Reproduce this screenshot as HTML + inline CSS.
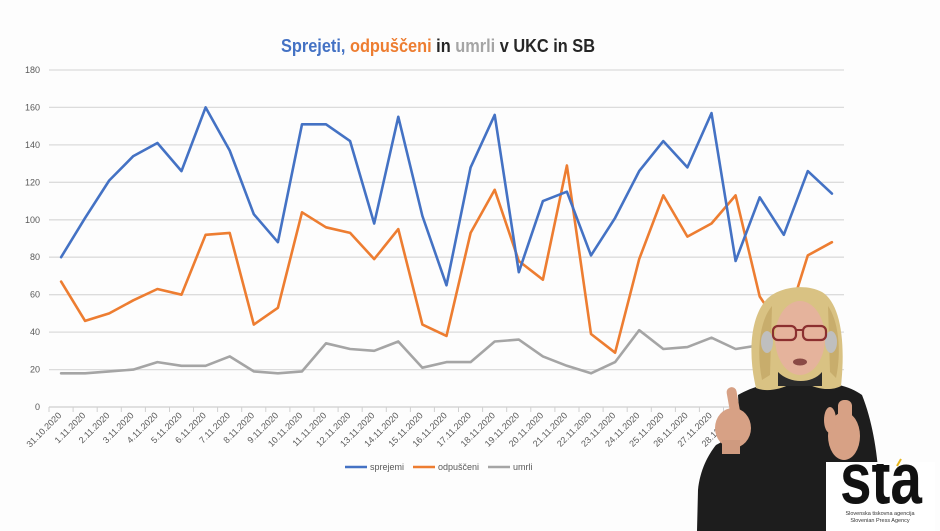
<!DOCTYPE html>
<html><head><meta charset="utf-8"><style>
html,body{margin:0;padding:0;background:#fdfdfd;}
svg{display:block;}
text{font-family:"Liberation Sans",sans-serif;}
</style></head><body>
<svg width="940" height="531" viewBox="0 0 940 531" xmlns="http://www.w3.org/2000/svg">
<rect width="940" height="531" fill="#fdfdfd"/>
<!-- title -->
<text x="281" y="52" font-size="18" font-weight="bold" textLength="314" lengthAdjust="spacingAndGlyphs"><tspan fill="#4472c4">Sprejeti,</tspan><tspan fill="#ed7d31"> odpuščeni</tspan><tspan fill="#262626"> in </tspan><tspan fill="#a5a5a5">umrli</tspan><tspan fill="#262626"> v UKC in SB</tspan></text>
<!-- gridlines -->
<g stroke="#dcdcdc" stroke-width="1.3">
<line x1="49" y1="70" x2="844" y2="70"/>
<line x1="49" y1="107.4" x2="844" y2="107.4"/>
<line x1="49" y1="144.9" x2="844" y2="144.9"/>
<line x1="49" y1="182.3" x2="844" y2="182.3"/>
<line x1="49" y1="219.8" x2="844" y2="219.8"/>
<line x1="49" y1="257.2" x2="844" y2="257.2"/>
<line x1="49" y1="294.7" x2="844" y2="294.7"/>
<line x1="49" y1="332.1" x2="844" y2="332.1"/>
<line x1="49" y1="369.6" x2="844" y2="369.6"/>
<line x1="49" y1="407" x2="844" y2="407" stroke="#d0d0d0"/>
</g>
<g stroke="#d0d0d0" stroke-width="1">
<path d="M49 407v5M73.1 407v5M97.2 407v5M121.3 407v5M145.4 407v5M169.5 407v5M193.5 407v5M217.6 407v5M241.7 407v5M265.8 407v5M289.9 407v5M314 407v5M338.1 407v5M362.2 407v5M386.3 407v5M410.4 407v5M434.4 407v5M458.5 407v5M482.6 407v5M506.7 407v5M530.8 407v5M554.9 407v5M579 407v5M603.1 407v5M627.2 407v5M651.3 407v5M675.4 407v5M699.4 407v5M723.5 407v5M747.6 407v5M771.7 407v5M795.8 407v5M819.9 407v5M844 407v5"/>
</g>
<!-- y labels -->
<g font-size="9" fill="#595959" text-anchor="end">
<text x="40" y="410">0</text>
<text x="40" y="372.6">20</text>
<text x="40" y="335.1">40</text>
<text x="40" y="297.7">60</text>
<text x="40" y="260.2">80</text>
<text x="40" y="222.8">100</text>
<text x="40" y="185.3">120</text>
<text x="40" y="147.9">140</text>
<text x="40" y="110.4">160</text>
<text x="40" y="73">180</text>
</g>
<!-- x labels -->
<g font-size="9" fill="#595959" text-anchor="end">
<text transform="translate(62,416) rotate(-45)">31.10.2020</text>
<text transform="translate(86.1,416) rotate(-45)">1.11.2020</text>
<text transform="translate(110.2,416) rotate(-45)">2.11.2020</text>
<text transform="translate(134.3,416) rotate(-45)">3.11.2020</text>
<text transform="translate(158.4,416) rotate(-45)">4.11.2020</text>
<text transform="translate(182.5,416) rotate(-45)">5.11.2020</text>
<text transform="translate(206.6,416) rotate(-45)">6.11.2020</text>
<text transform="translate(230.7,416) rotate(-45)">7.11.2020</text>
<text transform="translate(254.8,416) rotate(-45)">8.11.2020</text>
<text transform="translate(278.9,416) rotate(-45)">9.11.2020</text>
<text transform="translate(303,416) rotate(-45)">10.11.2020</text>
<text transform="translate(327,416) rotate(-45)">11.11.2020</text>
<text transform="translate(351.1,416) rotate(-45)">12.11.2020</text>
<text transform="translate(375.2,416) rotate(-45)">13.11.2020</text>
<text transform="translate(399.3,416) rotate(-45)">14.11.2020</text>
<text transform="translate(423.4,416) rotate(-45)">15.11.2020</text>
<text transform="translate(447.5,416) rotate(-45)">16.11.2020</text>
<text transform="translate(471.6,416) rotate(-45)">17.11.2020</text>
<text transform="translate(495.7,416) rotate(-45)">18.11.2020</text>
<text transform="translate(519.8,416) rotate(-45)">19.11.2020</text>
<text transform="translate(543.9,416) rotate(-45)">20.11.2020</text>
<text transform="translate(567.9,416) rotate(-45)">21.11.2020</text>
<text transform="translate(592,416) rotate(-45)">22.11.2020</text>
<text transform="translate(616.1,416) rotate(-45)">23.11.2020</text>
<text transform="translate(640.2,416) rotate(-45)">24.11.2020</text>
<text transform="translate(664.3,416) rotate(-45)">25.11.2020</text>
<text transform="translate(688.4,416) rotate(-45)">26.11.2020</text>
<text transform="translate(712.5,416) rotate(-45)">27.11.2020</text>
<text transform="translate(736.6,416) rotate(-45)">28.11.2020</text>
<text transform="translate(760.7,416) rotate(-45)">29.11.2020</text>
<text transform="translate(784.8,416) rotate(-45)">30.11.2020</text>
<text transform="translate(808.8,416) rotate(-45)">1.12.2020</text>
<text transform="translate(832.9,416) rotate(-45)">2.12.2020</text>
</g>
<!-- series -->
<g fill="none" stroke-width="2.6" stroke-linejoin="round" stroke-linecap="round">
<polyline stroke="#a5a5a5" points="61.1,373.3 85.1,373.3 109.2,371.4 133.3,369.6 157.4,362.1 181.5,365.8 205.6,365.8 229.7,356.4 253.8,371.4 277.9,373.3 302,371.4 326,343.3 350.1,349 374.2,350.8 398.3,341.5 422.4,367.7 446.5,362.1 470.6,362.1 494.7,341.5 518.8,339.6 542.9,356.4 566.9,365.8 591,373.3 615.1,362.1 639.2,330.2 663.3,349 687.4,347.1 711.5,337.7 735.6,349 759.7,345.2 783.8,345.2 807.8,350.8 831.9,347.1"/>
<polyline stroke="#ed7d31" points="61.1,281.6 85.1,320.9 109.2,313.4 133.3,300.3 157.4,289 181.5,294.7 205.6,234.8 229.7,232.9 253.8,324.6 277.9,307.8 302,212.3 326,227.3 350.1,232.9 374.2,259.1 398.3,229.1 422.4,324.6 446.5,335.9 470.6,232.9 494.7,189.8 518.8,261 542.9,279.7 566.9,165.5 591,334 615.1,352.7 639.2,259.1 663.3,195.4 687.4,236.6 711.5,223.5 735.6,195.4 759.7,296.5 783.8,332.1 807.8,255.4 831.9,242.2"/>
<polyline stroke="#4472c4" points="61.1,257.2 85.1,217.9 109.2,180.5 133.3,156.1 157.4,143 181.5,171.1 205.6,107.4 229.7,150.5 253.8,214.2 277.9,242.2 302,124.3 326,124.3 350.1,141.1 374.2,223.5 398.3,116.8 422.4,216 446.5,285.3 470.6,167.4 494.7,114.9 518.8,272.2 542.9,201.1 566.9,191.7 591,255.4 615.1,217.9 639.2,171.1 663.3,141.1 687.4,167.4 711.5,113.1 735.6,261 759.7,197.3 783.8,234.8 807.8,171.1 831.9,193.6"/>
</g>
<!-- legend -->
<g stroke-width="2.6">
<line x1="345" y1="467" x2="367" y2="467" stroke="#4472c4"/>
<line x1="413" y1="467" x2="435" y2="467" stroke="#ed7d31"/>
<line x1="488" y1="467" x2="510" y2="467" stroke="#a5a5a5"/>
</g>
<g font-size="9" fill="#595959">
<text x="370" y="470">sprejemi</text>
<text x="438" y="470">odpuščeni</text>
<text x="513" y="470">umrli</text>
</g>
<!-- interpreter -->
<g>
<!-- sweater -->
<path d="M697,531 L698,490 C700,470 708,455 716,445 L740,432 L738,395 C755,385 775,381 800,381 C830,381 850,386 862,395 C872,420 877,450 879,480 L881,531 Z" fill="#1d1d1d"/>
<!-- hair -->
<path d="M756,388 C748,355 750,318 766,300 C778,287 805,283 822,292 C840,303 846,340 841,386 C830,392 815,388 808,384 L790,384 C780,390 765,392 756,388 Z" fill="#d9c283"/>
<path d="M762,380 C756,350 760,320 772,306 L770,375 Z" fill="#c8ad6c"/>
<path d="M836,378 C842,350 838,320 828,306 L830,372 Z" fill="#c8ad6c"/>
<!-- face -->
<ellipse cx="800" cy="338" rx="25" ry="37" fill="#e5b39c"/>
<path d="M778,372 C790,384 812,384 822,372 L822,386 L778,386 Z" fill="#2a2a2a"/>
<!-- headphones -->
<ellipse cx="767" cy="342" rx="6" ry="11" fill="#bfbfbf"/>
<ellipse cx="831" cy="342" rx="6" ry="11" fill="#bfbfbf"/>
<!-- glasses -->
<rect x="773" y="326" width="23" height="14" rx="5" fill="none" stroke="#8b2f2f" stroke-width="2.2"/>
<rect x="803" y="326" width="23" height="14" rx="5" fill="none" stroke="#8b2f2f" stroke-width="2.2"/>
<line x1="796" y1="330" x2="803" y2="330" stroke="#8b2f2f" stroke-width="2"/>
<ellipse cx="800" cy="362" rx="7" ry="3.5" fill="#8a4a45"/>
<!-- hands -->
<ellipse cx="733" cy="428" rx="18" ry="20" fill="#d7a185"/>
<rect x="728" y="387" width="10" height="30" rx="5" fill="#d7a185" transform="rotate(-10 733 400)"/>
<rect x="722" y="440" width="18" height="14" fill="#cf9a7f"/>
<ellipse cx="844" cy="436" rx="16" ry="24" fill="#d7a185"/>
<rect x="838" y="400" width="14" height="22" rx="6" fill="#d7a185"/>
<ellipse cx="830" cy="420" rx="6" ry="13" fill="#d7a185"/>
</g>
<!-- STA logo -->
<rect x="826" y="462" width="109" height="69" fill="#ffffff"/>
<clipPath id="lc"><rect x="826" y="464" width="109" height="42"/></clipPath>
<g clip-path="url(#lc)">
<text x="840" y="503" font-size="58" font-weight="bold" fill="#111" textLength="82" lengthAdjust="spacingAndGlyphs" transform="translate(0,-120) scale(1,1.24)" dy="0">sta</text>
</g>
<path d="M897,466 L901,459" stroke="#e8b820" stroke-width="2"/>
<g font-size="5.5" fill="#333" text-anchor="middle">
<text x="880" y="515">Slovenska tiskovna agencija</text>
<text x="880" y="522">Slovenian Press Agency</text>
</g>
</svg>
</body></html>
